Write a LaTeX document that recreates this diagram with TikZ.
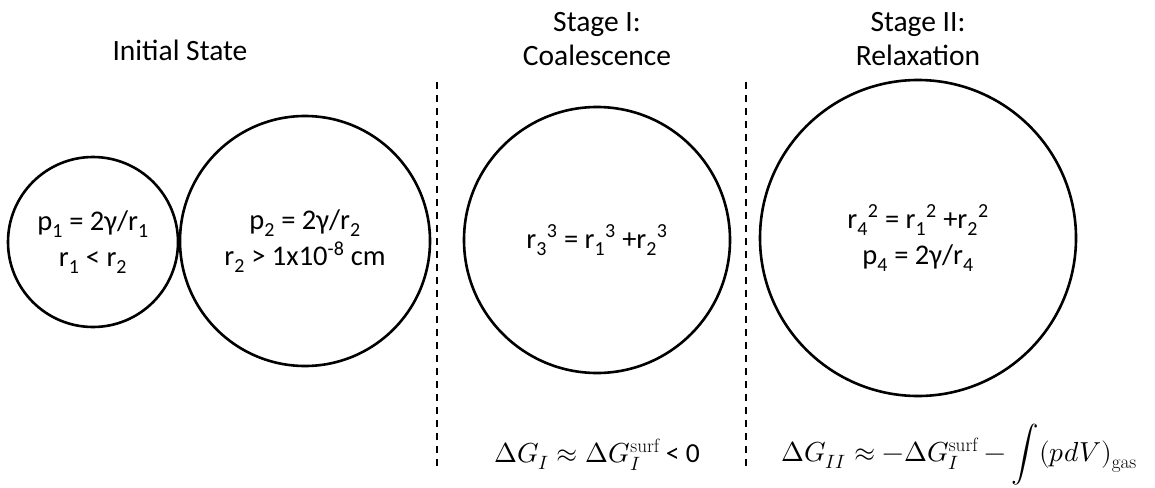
\documentclass[tikz,border=0pt]{standalone}
\usepackage{unicode-math}
\setmainfont{Carlito}
\setmathfont{Latin Modern Math}
\setmathrm{Latin Modern Roman}
\begin{document}
\begin{tikzpicture}[x=1pt,y=-1pt,
  bubble/.style={circle,draw,line width=2.6pt,inner sep=0pt,align=center,font=\fontsize{28.5}{36}\selectfont},
  title/.style={align=center,font=\fontsize{29.5}{34}\selectfont},
  eq/.style={font=\fontsize{27.5}{30}\selectfont},
  divider/.style={line width=1.3pt,dash pattern=on 7pt off 6pt}]
\useasboundingbox (0,0) rectangle (1155,487);
\node[title] (t0) at (180,50) {Initial State};
\node[title] (t1) at (597,39) {Stage I:\\Coalescence};
\node[title] (t2) at (918,39) {Stage II:\\Relaxation};
\node[bubble,minimum size=170pt] (c1) at (93,242) {p\textsubscript{1} = 2γ/r\textsubscript{1}\\r\textsubscript{1} {\textless} r\textsubscript{2}};
\node[bubble,minimum size=250pt] (c2) at (305,241) {p\textsubscript{2} = 2γ/r\textsubscript{2}\\r\textsubscript{2} {\textgreater} 1x10\textsuperscript{-8} cm};
\node[bubble,minimum size=266pt] (c3) at (597,240) {r\textsubscript{3}\textsuperscript{3} = r\textsubscript{1}\textsuperscript{3} +r\textsubscript{2}\textsuperscript{3}};
\node[bubble,minimum size=316pt] (c4) at (918,238) {r\textsubscript{4}\textsuperscript{2} = r\textsubscript{1}\textsuperscript{2} +r\textsubscript{2}\textsuperscript{2}\\p\textsubscript{4} = 2γ/r\textsubscript{4}};
\coordinate (d1t) at (437,82);
\coordinate (d1b) at (437,466);
\coordinate (d2t) at (746,82);
\coordinate (d2b) at (746,466);
\draw[divider] (d1t) -- (d1b);
\draw[divider] (d2t) -- (d2b);
\node[eq] (e1) at (597,455) {$\Delta G_I \approx \Delta G_I^{\mathrm{surf}}$ < 0};
\node[eq] (e2) at (959,455) {$\Delta G_{II} \approx -\Delta G_I^{\mathrm{surf}} - \displaystyle\int (p dV)_{\mathrm{gas}}$};
\end{tikzpicture}
\end{document}
